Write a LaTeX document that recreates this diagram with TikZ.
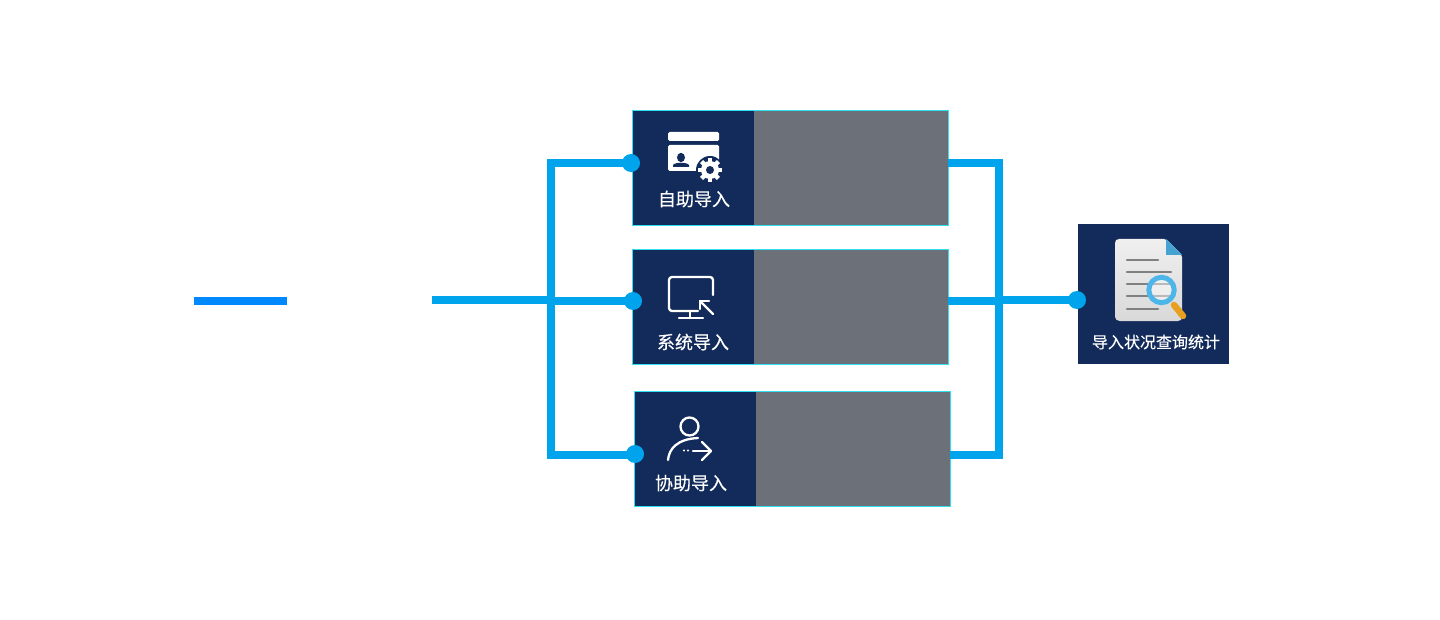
\documentclass[tikz,border=0pt]{standalone}
\usepackage{fontspec}
\setmainfont[FakeBold=0.25]{Noto Sans CJK SC}
\definecolor{navy}{HTML}{122B5A}
\definecolor{slate}{HTML}{6B7079}
\definecolor{link}{HTML}{00A4EC}
\definecolor{edge}{HTML}{2FE0F0}
\definecolor{lens}{HTML}{4DB5E8}
\definecolor{handle}{HTML}{E8A020}
\tikzset{
  iconbox/.style={fill=navy,inner sep=0pt,minimum width=121pt,minimum height=114pt},
  greybox/.style={fill=slate,inner sep=0pt,minimum width=194pt,minimum height=114pt},
  rim/.style={draw=edge,line width=1pt},
  dot/.style={circle,fill=link,inner sep=0pt,minimum size=18pt},
  wire/.style={link,line width=8pt},
  caption/.style={text=white,inner sep=0pt,font=\fontsize{18}{20}\selectfont},
  stroke/.style={white,line width=2.3pt,line cap=round,line join=round}
}
\begin{document}
\begin{tikzpicture}[x=1pt,y=-1pt]
      \useasboundingbox (0,0) rectangle (1440,620);
      \node[iconbox] (1) at (693.5,168) {};
      \node[greybox] (1g) at (851,168) {};
      \node[iconbox] (2) at (693.5,307) {};
      \node[greybox] (2g) at (851,307) {};
      \node[iconbox] (3) at (695.5,449) {};
      \node[greybox] (3g) at (853,449) {};
      \draw[rim] (1.north west) rectangle (1g.south east);
      \draw[rim] (2.north west) rectangle (2g.south east);
      \draw[rim] (3.north west) rectangle (3g.south east);
      \node[fill=navy,inner sep=0pt,minimum width=151pt,minimum height=140pt] (4) at (1153.5,294) {};

      \node[caption] (1t) at (694,199) {自助导入};
      \node[caption] (2t) at (693,342) {系统导入};
      \node[caption] (3t) at (691,483) {协助导入};
      \node[caption,font=\fontsize{16}{18}\selectfont] (4t) at (1156,342) {导入状况查询统计};

      % left bar
      \coordinate (a) at (194,301);
      \coordinate (b) at (287,301);
      \draw[line width=8pt,color={rgb,255:red,0;green,136;blue,255}] (a) -- (b);

      % wires
      \coordinate (in) at (432,300);
      \coordinate (j) at (551,300);
      \coordinate (lt) at (551,163);
      \coordinate (lb) at (551,455);
      \coordinate (r1) at (948,163);
      \coordinate (r2) at (948,301.5);
      \coordinate (r3) at (950,455);
      \coordinate (rt) at (999,163);
      \coordinate (rb) at (999,455);
      \node[dot] (d1) at (631,163) {};
      \node[dot] (d2) at (633,301) {};
      \node[dot] (d3) at (635,454) {};
      \node[dot] (d4) at (1077,300) {};

      \draw[wire] (d1.center) -- (lt) -- (lb) -- (d3.center |- lb);
      \draw[wire] (in) -- (j);
      \draw[wire] (j |- d2) -- (d2.center);
      \draw[wire] (r1) -- (rt) -- (rb) -- (r3);
      \draw[wire] (r2) -- (rt |- r2);
      \draw[wire] (rt |- d4) -- (d4.center);

      % card icon
      \fill[white,rounded corners=1.5pt] (668,132) rectangle (719,141);
      \fill[white,rounded corners=1.5pt] (668,145) rectangle (719,171);
      \fill[navy] (681,157.5) ellipse (4 and 4.7);
      \fill[navy] (673,167) -- (673,165) .. controls (675,162) and (687,162) .. (689,165) -- (689,167) -- cycle;
      \fill[navy] (710,170) circle (14);
      \fill[white] (710,170) circle (9);
      \foreach \a in {0,45,...,315}
        \draw[white,line width=4.5pt] (710,170) ++(\a:7) -- ++(\a:5);
      \fill[navy] (710,170) circle (4);

      % monitor icon
      \draw[stroke] (713,295) -- (713,280) arc (0:-90:3) -- (672,277) arc (270:180:3) -- (669,308) arc (180:90:3) -- (698,311);
      \draw[stroke] (690,311) -- (690,318);
      \draw[stroke] (679,318) -- (703,318);
      \draw[stroke] (709,301) -- (700,301) -- (700,309);
      \draw[stroke] (700,301) -- (713,314);

      % person icon
      \draw[stroke] (689.5,426.5) circle (9);
      \draw[stroke] (668,460) .. controls (669,449) and (677,439) .. (698,438);
      \draw[stroke] (693,451) -- (711,451);
      \draw[stroke] (702,442) -- (711,451) -- (702,460);
      \fill[white] (684,450.5) circle (1.1);
      \fill[white] (688,450.5) circle (1.1);

      % report icon
      \shade[top color=white!94!black,bottom color=white!85!black,rounded corners=2pt] (1115,241) -- (1115,319) -- (1118,321) -- (1180,321) -- (1182,319) -- (1182,255) -- (1166,239) -- (1117,239) -- cycle;
      \fill[lens!90!black] (1166,239) -- (1182,255) -- (1166,255) -- cycle;
      \foreach \y/\e in {260/1158,272/1171,284/1170,296/1170,309/1158}
        \draw[gray,line width=2.5pt,line cap=round] (1127,\y) -- (\e,\y);
      \draw[handle,line width=6.5pt,line cap=round] (1174,305) -- (1183,316);
      \fill[white,opacity=0.45] (1161.5,290) circle (13);
      \draw[lens,line width=5pt] (1161.5,290) circle (12.7);
    \end{tikzpicture}
\end{document}
